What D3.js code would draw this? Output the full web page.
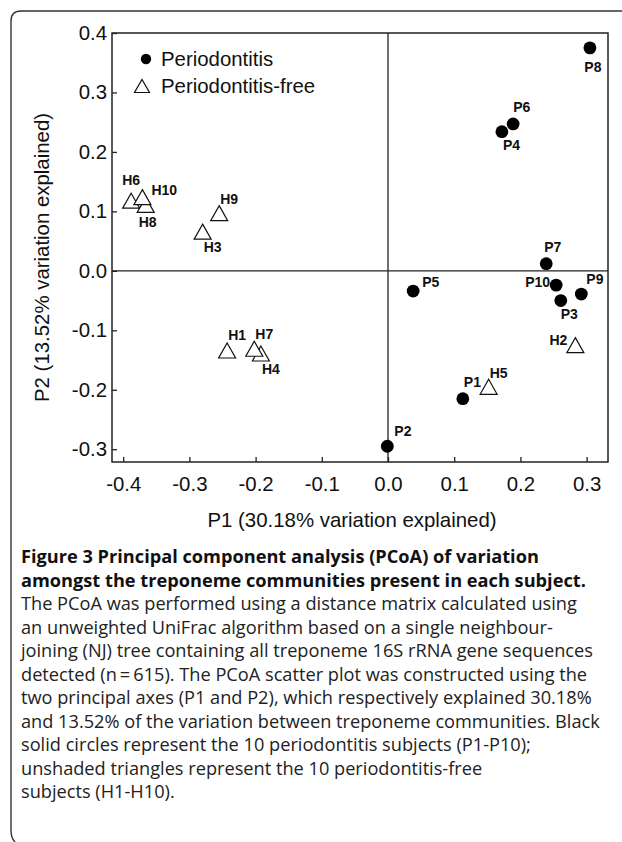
<!DOCTYPE html>
<html>
<head>
<meta charset="utf-8">
<script src="https://cdn.jsdelivr.net/npm/d3@7"></script>
<style>
  body { margin: 0; background: #fff; }
  svg { display: block; }
</style>
</head>
<body>
<div id="chart"></div>
<script>
// PCoA Werte
const pLabels = ["P1", "P2", "P3", "P4", "P5", "P6", "P7", "P8", "P9", "P10"];
const pAxis1 = [0.113, -0.001, 0.261, 0.172, 0.038, 0.189, 0.239, 0.305, 0.292, 0.254];
const pAxis2 = [-0.215, -0.295, -0.050, 0.234, -0.034, 0.247, 0.012, 0.375, -0.039, -0.024];

const hLabels = ["H1", "H2", "H3", "H4", "H5", "H6", "H7", "H8", "H9", "H10"];
const hAxis1 = [-0.243, 0.283, -0.280, -0.192, 0.152, -0.388, -0.202, -0.366, -0.255, -0.371];
const hAxis2 = [-0.134, -0.125, 0.066, -0.139, -0.195, 0.118, -0.131, 0.111, 0.097, 0.124];

const xTicks = [-0.4, -0.3, -0.2, -0.1, 0.0, 0.1, 0.2, 0.3];
const yTicks = [-0.3, -0.2, -0.1, 0.0, 0.1, 0.2, 0.3, 0.4];

const legendNames = ["Periodontitis", "Periodontitis-free"];
const xTitle = "P1 (30.18% variation explained)";
const yTitle = "P2 (13.52% variation explained)";

const captionBold = ["Figure 3", " Principal component analysis (PCoA) of variation",
    "amongst the treponeme communities present in each subject."];
const captionLines = [
    "The PCoA was performed using a distance matrix calculated using",
    "an unweighted UniFrac algorithm based on a single neighbour-",
    "joining (NJ) tree containing all treponeme 16S rRNA gene sequences",
    "detected (n\u2009=\u2009615). The PCoA scatter plot was constructed using the",
    "two principal axes (P1 and P2), which respectively explained 30.18%",
    "and 13.52% of the variation between treponeme communities. Black",
    "solid circles represent the 10 periodontitis subjects (P1-P10);",
    "unshaded triangles represent the 10 periodontitis-free",
    "subjects (H1-H10)."
];

// Lage der Punktbeschriftungen relativ zum Punkt (Pixel)
const labelPos = {
    P1: ["start", 1, -12], P2: ["start", 7, -10], P3: ["start", 0, 18], P4: ["start", 1, 18],
    P5: ["start", 9, -4], P6: ["start", 0, -12], P7: ["start", -2, -12], P8: ["middle", 3, 24],
    P9: ["start", 5, -10], P10: ["end", -6, 2],
    H1: ["start", 1, -11], H2: ["end", -8, 0], H3: ["start", 1, 20], H4: ["start", 1, 21],
    H5: ["start", 1, -9], H6: ["middle", 0, -16], H7: ["start", 1, -10], H8: ["middle", 2, 22],
    H9: ["start", 1, -9], H10: ["start", 9, -2]
};

const W = 622, H = 842;
const plot = {left: 112, right: 608, top: 33, bottom: 462};
const axisFont = "'Liberation Sans', Arial, sans-serif";
const capFont = "'Open Sans', 'Noto Sans', sans-serif";
const capSize = "18.2px";
const ink = "#222";

const svg = d3.select("#chart").append("svg")
    .attr("width", W)
    .attr("height", H);

// Rahmen (oben und links, abgerundet)
svg.append("path")
    .attr("d", `M${W},11 H21 Q11,11 11,21 V830 Q11,838 15,842`)
    .attr("fill", "none")
    .attr("stroke", "#333")
    .attr("stroke-width", 1.4);

const xx = d3.scaleLinear()
    .domain([-0.4169, 0.3323])
    .range([plot.left, plot.right]);

const yy = d3.scaleLinear()
    .domain([-0.3215, 0.4])
    .range([plot.bottom, plot.top]);

const fmt = d => d.toFixed(1);   // normaler Bindestrich statt Minuszeichen

const gx = svg.append("g")
    .attr("transform", `translate(0,${plot.bottom})`)
    .call(d3.axisBottom(xx).tickValues(xTicks).tickFormat(fmt).tickSizeInner(-5).tickSizeOuter(0).tickPadding(15));

const gy = svg.append("g")
    .attr("transform", `translate(${plot.left},0)`)
    .call(d3.axisLeft(yy).tickValues(yTicks).tickFormat(fmt).tickSizeInner(-5).tickSizeOuter(0).tickPadding(5));

[gx, gy].forEach(g => {
    g.select(".domain").remove();
    g.selectAll(".tick line").attr("stroke", ink).attr("stroke-width", 1.3);
    g.selectAll(".tick text")
        .style("font-family", axisFont)
        .style("font-size", "20.4px")
        .attr("fill", "#111");
});

// Achsen durch den Nullpunkt
svg.append("line")
    .attr("x1", xx(0)).attr("x2", xx(0))
    .attr("y1", plot.top).attr("y2", plot.bottom)
    .attr("stroke", ink).attr("stroke-width", 1.3);
svg.append("line")
    .attr("x1", plot.left).attr("x2", plot.right)
    .attr("y1", yy(0)).attr("y2", yy(0))
    .attr("stroke", ink).attr("stroke-width", 1.3);

svg.append("rect")
    .attr("x", plot.left).attr("y", plot.top)
    .attr("width", plot.right - plot.left)
    .attr("height", plot.bottom - plot.top)
    .attr("fill", "none")
    .attr("stroke", ink)
    .attr("stroke-width", 1.5);

function triangle(cx, cy, w, h) {
    return `M${cx},${cy - h / 2} L${cx + w / 2},${cy + h / 2} L${cx - w / 2},${cy + h / 2} Z`;
}

const pData = pLabels.map((d, i) => ({name: d, x: pAxis1[i], y: pAxis2[i]}));
const hData = hLabels.map((d, i) => ({name: d, x: hAxis1[i], y: hAxis2[i]}));

svg.append("g").selectAll("path")
    .data(hData)
    .join("path")
    .attr("d", d => triangle(xx(d.x), yy(d.y), 17, 15))
    .attr("fill", "#fff")
    .attr("stroke", "#111")
    .attr("stroke-width", 1.2);

svg.append("g").selectAll("circle")
    .data(pData)
    .join("circle")
    .attr("cx", d => xx(d.x))
    .attr("cy", d => yy(d.y))
    .attr("r", 6.4)
    .attr("fill", "#000");

svg.append("g").selectAll("text")
    .data(pData.concat(hData))
    .join("text")
    .attr("x", d => xx(d.x) + labelPos[d.name][1])
    .attr("y", d => yy(d.y) + labelPos[d.name][2])
    .attr("text-anchor", d => labelPos[d.name][0])
    .style("font-family", axisFont)
    .style("font-size", "14px")
    .style("font-weight", "bold")
    .attr("fill", "#111")
    .text(d => d.name);

// Legende
svg.append("circle").attr("cx", 146).attr("cy", 59).attr("r", 5.2).attr("fill", "#000");
svg.append("path").attr("d", triangle(142, 86, 15, 13))
    .attr("fill", "#fff").attr("stroke", "#111").attr("stroke-width", 1.2);
legendNames.forEach((n, i) => {
    svg.append("text")
        .attr("x", 161).attr("y", 66 + i * 27)
        .style("font-family", axisFont)
        .style("font-size", "20.4px")
        .attr("fill", "#111")
        .text(n);
});

// Achsentitel
svg.append("text")
    .attr("x", 352).attr("y", 527)
    .attr("text-anchor", "middle")
    .style("font-family", axisFont)
    .style("font-size", "20.4px")
    .attr("fill", "#111")
    .text(xTitle);

svg.append("text")
    .attr("transform", "translate(49,257.5) rotate(-90)")
    .attr("text-anchor", "middle")
    .style("font-family", axisFont)
    .style("font-size", "20.4px")
    .attr("fill", "#111")
    .text(yTitle);

// Bildunterschrift
const lh = 23.5;
const c1 = svg.append("text").attr("x", 21).attr("y", 563)
    .style("font-family", capFont).style("font-size", capSize).style("font-weight", 700).attr("fill", "#111");
c1.append("tspan").text(captionBold[0]);
c1.append("tspan").text(captionBold[1]);
svg.append("text").attr("x", 21).attr("y", 563 + lh)
    .style("font-family", capFont).style("font-size", capSize).style("font-weight", 700)
    .attr("fill", "#111").text(captionBold[2]);

captionLines.forEach((t, i) => {
    svg.append("text")
        .attr("x", 21).attr("y", 563 + (i + 2) * lh)
        .style("font-family", capFont)
        .style("font-size", capSize)
        .attr("fill", "#222")
        .text(t);
});
</script>
</body>
</html>
